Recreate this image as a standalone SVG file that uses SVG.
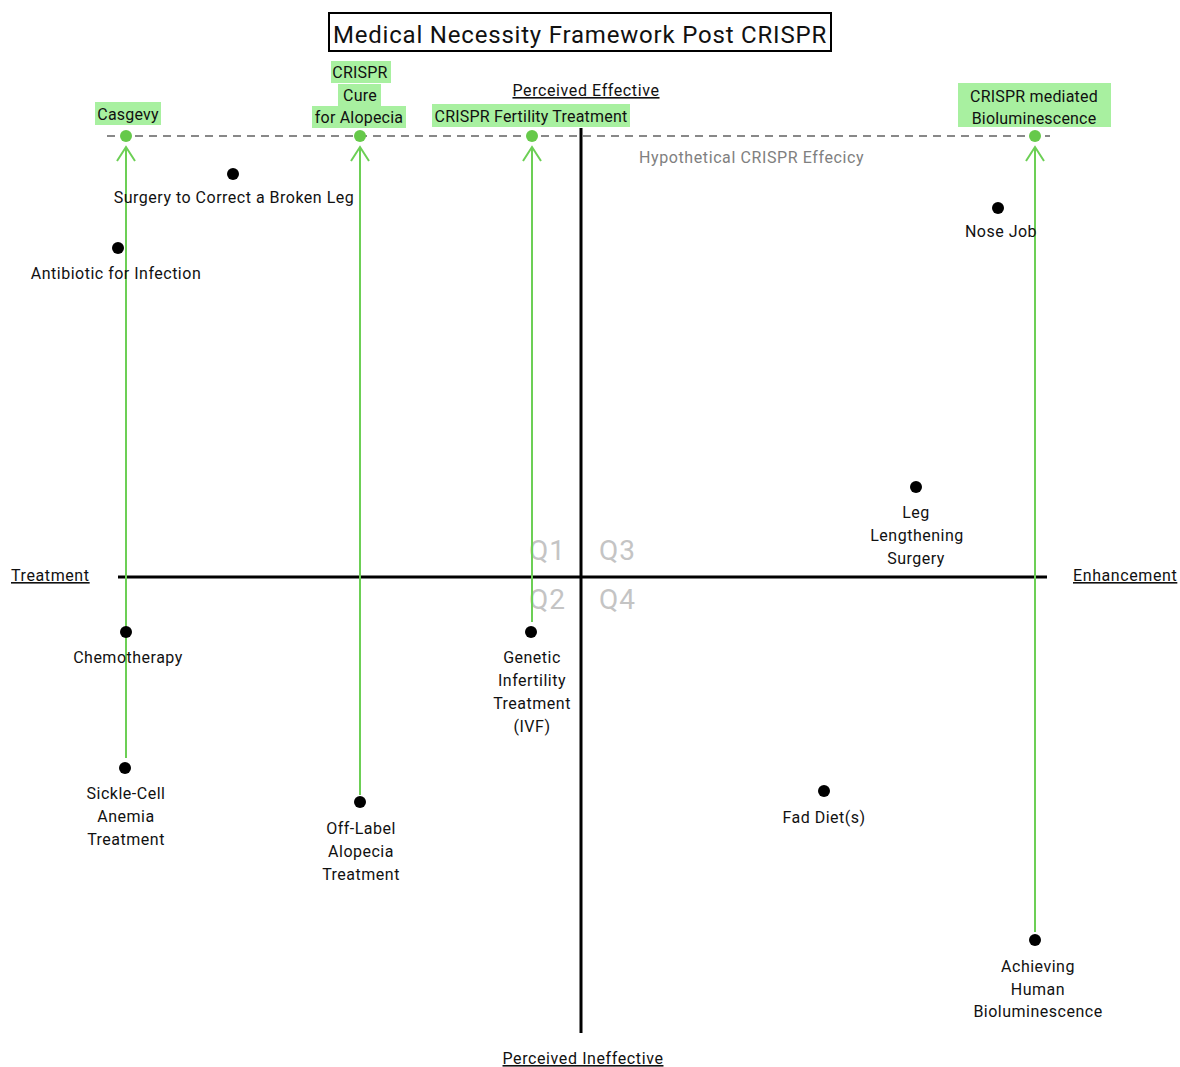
<svg xmlns="http://www.w3.org/2000/svg" width="1180" height="1067" viewBox="0 0 1180 1067">
<defs>
<style>
text{font-family:Roboto,"Liberation Sans",sans-serif;font-size:16px;fill:#111;}
.lbl{text-anchor:middle;letter-spacing:0.5px;}
.glbl{text-anchor:middle;letter-spacing:0.2px;}
.gbox{fill:#a8f0a0;stroke:none;}
.ax{text-decoration:underline;letter-spacing:0.6px;}
.q{font-size:28px;fill:#c4c4c4;letter-spacing:1px;}
.dot{fill:#000;}
.gdot{fill:#66c94a;}
.arrow{stroke:#6ccf55;stroke-width:2;fill:none;marker-end:url(#ah);}
</style>
<marker id="ah" viewBox="-16 -11 18 22" refX="0" refY="0" markerWidth="18" markerHeight="22" markerUnits="userSpaceOnUse" orient="auto">
<polyline points="-14,-9 0,0 -14,9" fill="none" stroke="#6ccf55" stroke-width="2"/>
</marker>
</defs>
<rect width="1180" height="1067" fill="#fff"/>
<g id="title">
<rect x="329" y="13" width="502" height="38" fill="none" stroke="#000" stroke-width="2"/>
<text x="580" y="43" text-anchor="middle" style="font-size:24px;letter-spacing:0.8px">Medical Necessity Framework Post CRISPR</text>
</g>
<g id="axes">
<line x1="118" y1="577" x2="1047" y2="577" stroke="#000" stroke-width="3"/>
<line x1="581" y1="128" x2="581" y2="1033" stroke="#000" stroke-width="3"/>
<line x1="107" y1="136" x2="1050" y2="136" stroke="#888" stroke-width="2" stroke-dasharray="8 6"/>
<text class="ax" x="11" y="581">Treatment</text>
<text class="ax" x="1073" y="581">Enhancement</text>
<text class="ax" x="586" y="96" text-anchor="middle">Perceived Effective</text>
<text class="ax" x="583" y="1064" text-anchor="middle">Perceived Ineffective</text>
<text x="639" y="163" style="fill:#808080;letter-spacing:0.6px">Hypothetical CRISPR Effecicy</text>
<text class="q" x="529" y="560">Q1</text>
<text class="q" x="599" y="560">Q3</text>
<text class="q" x="529" y="609">Q2</text>
<text class="q" x="599" y="609">Q4</text>
</g>
<g id="connectors">
<line class="arrow" x1="126" y1="758" x2="126" y2="147"/>
<line class="arrow" x1="360" y1="795" x2="360" y2="147"/>
<line class="arrow" x1="532" y1="622" x2="532" y2="147"/>
<line class="arrow" x1="1035" y1="932" x2="1035" y2="147"/>
</g>
<g id="casgevy">
<rect class="gbox" x="95" y="102" width="66" height="23"/>
<text class="glbl" x="128" y="120">Casgevy</text>
<circle class="gdot" cx="126" cy="136" r="6"/>
</g>
<g id="crispr-alopecia">
<rect class="gbox" x="331" y="61" width="60" height="22"/>
<rect class="gbox" x="338" y="84" width="43" height="22"/>
<rect class="gbox" x="312" y="106" width="94" height="22"/>
<text class="glbl" x="360" y="78">CRISPR</text>
<text class="glbl" x="360" y="101">Cure</text>
<text class="glbl" x="359" y="123">for Alopecia</text>
<circle class="gdot" cx="360" cy="136" r="6"/>
</g>
<g id="crispr-fertility">
<rect class="gbox" x="432" y="104" width="198" height="23"/>
<text class="glbl" x="531" y="122">CRISPR Fertility Treatment</text>
<circle class="gdot" cx="532" cy="136" r="6"/>
</g>
<g id="crispr-biolum">
<rect class="gbox" x="958" y="83" width="153" height="44"/>
<text class="glbl" x="1034" y="102">CRISPR mediated</text>
<text class="glbl" x="1034" y="124">Bioluminescence</text>
<circle class="gdot" cx="1035" cy="136" r="6"/>
</g>
<g id="broken-leg">
<circle class="dot" cx="233" cy="174" r="6"/>
<text class="lbl" x="234" y="203">Surgery to Correct a Broken Leg</text>
</g>
<g id="antibiotic">
<circle class="dot" cx="118" cy="248" r="6"/>
<text class="lbl" x="116" y="279">Antibiotic for Infection</text>
</g>
<g id="nose-job">
<circle class="dot" cx="998" cy="208" r="6"/>
<text class="lbl" x="1001" y="237">Nose Job</text>
</g>
<g id="leg-lengthening">
<circle class="dot" cx="916" cy="487" r="6"/>
<text class="lbl" x="916" y="518">Leg</text>
<text class="lbl" x="917" y="541">Lengthening</text>
<text class="lbl" x="916" y="564">Surgery</text>
</g>
<g id="chemo">
<circle class="dot" cx="126" cy="632" r="6"/>
<text class="lbl" x="128" y="663">Chemotherapy</text>
</g>
<g id="ivf">
<circle class="dot" cx="531" cy="632" r="6"/>
<text class="lbl" x="532" y="663">Genetic</text>
<text class="lbl" x="532" y="686">Infertility</text>
<text class="lbl" x="532" y="709">Treatment</text>
<text class="lbl" x="532" y="732">(IVF)</text>
</g>
<g id="sickle-cell">
<circle class="dot" cx="125" cy="768" r="6"/>
<text class="lbl" x="126" y="799">Sickle-Cell</text>
<text class="lbl" x="126" y="822">Anemia</text>
<text class="lbl" x="126" y="845">Treatment</text>
</g>
<g id="off-label">
<circle class="dot" cx="360" cy="802" r="6"/>
<text class="lbl" x="361" y="834">Off-Label</text>
<text class="lbl" x="361" y="857">Alopecia</text>
<text class="lbl" x="361" y="880">Treatment</text>
</g>
<g id="fad-diet">
<circle class="dot" cx="824" cy="791" r="6"/>
<text class="lbl" x="824" y="823">Fad Diet(s)</text>
</g>
<g id="biolum">
<circle class="dot" cx="1035" cy="940" r="6"/>
<text class="lbl" x="1038" y="972">Achieving</text>
<text class="lbl" x="1038" y="995">Human</text>
<text class="lbl" x="1038" y="1017">Bioluminescence</text>
</g>
</svg>
